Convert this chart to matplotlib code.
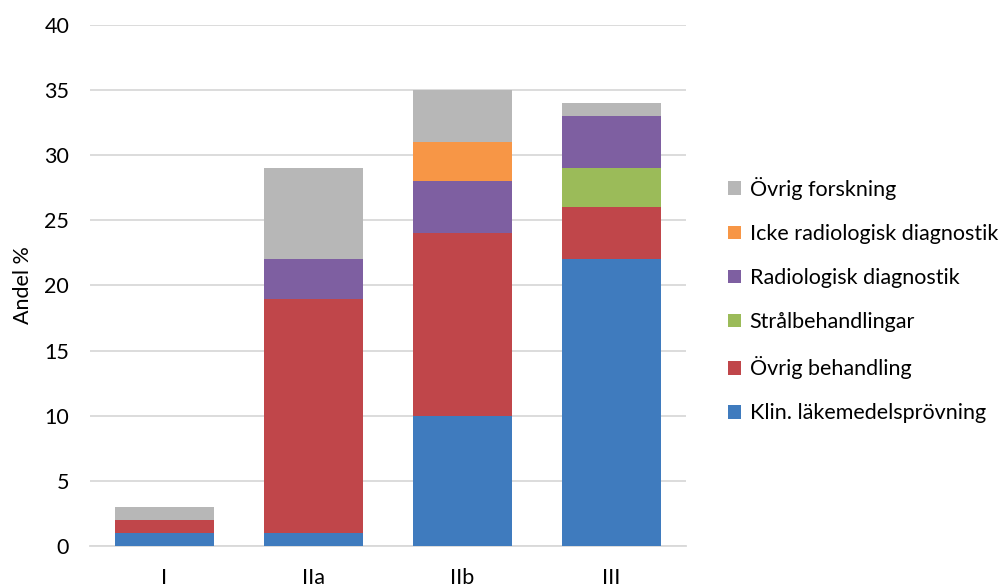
import matplotlib
matplotlib.use("Agg")
import matplotlib.pyplot as plt
from matplotlib.patches import Patch

plt.rcParams['font.family'] = ['Lato', 'DejaVu Sans']

phases = ["I", "IIa", "IIb", "III"]
klin_lakemedel = [1, 1, 10, 22]
ovrig_behandling = [1, 18, 14, 4]
stralbehandlingar = [0, 0, 0, 3]
radiologisk_diag = [0, 3, 4, 4]
icke_radiologisk_diag = [0, 0, 3, 0]
ovrig_forskning = [1, 7, 4, 1]

series = [
    ("Klin. läkemedelsprövning", klin_lakemedel, "#3F7BBE"),
    ("Övrig behandling", ovrig_behandling, "#C0464A"),
    ("Strålbehandlingar", stralbehandlingar, "#9BBB59"),
    ("Radiologisk diagnostik", radiologisk_diag, "#7E5FA1"),
    ("Icke radiologisk diagnostik", icke_radiologisk_diag, "#F79646"),
    ("Övrig forskning", ovrig_forskning, "#B7B7B7"),
]

fig = plt.figure(figsize=(10.05, 5.85), dpi=100)
ax = fig.add_axes([0.0896, 0.0667, 0.593, 0.8906])

x = list(range(len(phases)))
bottom = [0.0] * len(phases)
for name, vals, color in series:
    ax.bar(x, vals, width=0.665, bottom=bottom, color=color, label=name, zorder=3)
    bottom = [b + v for b, v in zip(bottom, vals)]

ax.set_xlim(-0.5, len(phases) - 0.5)
ax.set_ylim(0, 40)
ax.set_yticks(range(0, 41, 5))
ax.set_xticks(x)
ax.set_xticklabels(phases)
ax.grid(axis="y", color="#D9D9D9", linewidth=1.3, zorder=0)
for s in ["top", "right", "left"]:
    ax.spines[s].set_visible(False)
ax.spines["bottom"].set_color("#D9D9D9")
ax.spines["bottom"].set_linewidth(1.3)
ax.tick_params(axis="both", length=0, labelsize=15.5, colors="black")
ax.tick_params(axis="y", pad=15)
ax.tick_params(axis="x", pad=16)
ax.set_ylabel("Andel %", fontsize=15.5, labelpad=8)

handles = [Patch(facecolor=c, label=n) for n, _, c in series][::-1]
fig.legend(handles=handles, loc="center left", bbox_to_anchor=(0.716, 0.487),
           frameon=False, fontsize=15.5, handlelength=0.6, handleheight=0.6,
           handletextpad=0.4, labelspacing=1.12, borderaxespad=0)

fig.savefig("out.png", dpi=100)
